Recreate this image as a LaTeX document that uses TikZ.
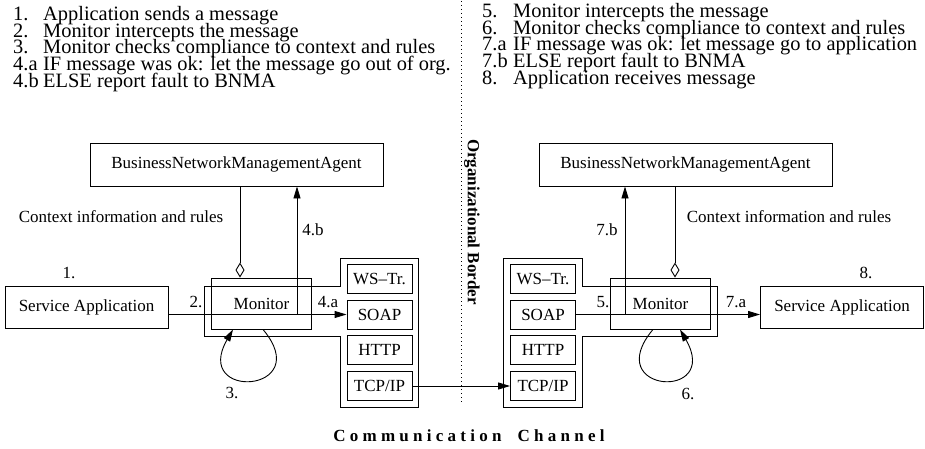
\documentclass[tikz,border=0pt]{standalone}
\usepackage{fontspec}
\setmainfont{Liberation Serif}
\usepackage{tikz}
\usetikzlibrary{arrows.meta}
\tikzstyle{caja} = [draw, line width=0.9pt, inner sep=0pt,
  font=\fontsize{17}{20}\selectfont]
\tikzstyle{aplic} = [caja, minimum width=163pt, minimum height=42pt]
\tikzstyle{agente} = [caja, minimum width=293pt, minimum height=43pt]
\tikzstyle{monitor} = [caja, minimum width=100pt, minimum height=51pt]
\tikzstyle{capa} = [caja, minimum width=65pt, minimum height=29pt]
\tikzstyle{etiq} = [inner sep=0pt, font=\fontsize{17}{20}\selectfont]
\tikzstyle{negrita} = [inner sep=0pt, font=\fontsize{17}{20}\selectfont\bfseries]
\tikzstyle{lista} = [inner sep=0pt, anchor=base west,
  font=\fontsize{20.4}{20}\selectfont]
\tikzstyle{line} = [draw, line width=0.9pt, -{Triangle[length=12pt,width=7pt]}]
\tikzstyle{contexto} = [draw, line width=0.9pt,
  -{Diamond[open,length=15pt,width=9pt]}]
\tikzstyle{borde} = [draw, line width=0.9pt]
\newcommand{\paso}[6]{%
  \node (n#1) [lista] at (#2,-#4) {#5};
  \node (t#1) [lista] at (#3,-#4) {#6};}

\begin{document}
\begin{tikzpicture}[x=1pt,y=1pt]
\useasboundingbox (0,0) rectangle (925,-449);

  % Steps of the sender and of the receiver
\paso{1}{13}{43}{20.7}{1.}{Application sends a message}
\paso{2}{13}{43}{37.3}{2.}{Monitor intercepts the message}
\paso{3}{13}{43}{54}{3.}{Monitor checks compliance to context and rules}
\paso{4a}{13}{43}{70.7}{4.a}{IF message was ok: let the message go out of org.}
\paso{4b}{13}{43}{87.3}{4.b}{ELSE report fault to BNMA}
\paso{5}{482}{513}{17.3}{5.}{Monitor intercepts the message}
\paso{6}{482}{513}{34.3}{6.}{Monitor checks compliance to context and rules}
\paso{7a}{482}{513}{51}{7.a}{IF message was ok: let message go to application}
\paso{7b}{482}{513}{67.7}{7.b}{ELSE report fault to BNMA}
\paso{8}{482}{513}{84.3}{8.}{Application receives message}

  % Organizational border
\draw[line width=1pt, dash pattern=on 1pt off 3pt] (461,-1) -- (461,-403);
\node (org) [negrita, rotate=-90] at (472,-222) {Organizational Border};
\node (canal) [negrita] at (469,-436)
  {C o m m u n i c a t i o n\hspace{12pt} C h a n n e l};

  % Sender side
\node (bnmaL) [agente] at (236.5,-164.5) {BusinessNetworkManagementAgent};
\node (sappL) [aplic] at (86.5,-307) {Service Application};
\node (monL) [monitor] at (261.5,-303.5) {Monitor};
\node (wsL) [capa] at (379.5,-278.5) {WS--Tr.};
\node (soapL) [capa] at (379.5,-314.5) {SOAP};
\node (httpL) [capa] at (379.5,-350) {HTTP};
\node (tcpL) [capa] at (379.5,-386) {TCP/IP};
\path [borde] (204,-286) -- (340,-286) -- (340,-258) -- (418,-258)
  -- (418,-407) -- (340,-407) -- (340,-336) -- (204,-336) -- cycle;

  % Receiver side
\node (bnmaR) [agente] at (685.5,-164.5) {BusinessNetworkManagementAgent};
\node (sappR) [aplic] at (842,-307) {Service Application};
\node (monR) [monitor] at (660.5,-303.5) {Monitor};
\node (wsR) [capa] at (543,-278.5) {WS--Tr.};
\node (soapR) [capa] at (543,-314.5) {SOAP};
\node (httpR) [capa] at (543,-350) {HTTP};
\node (tcpR) [capa] at (543,-386) {TCP/IP};
\path [borde] (503,-258) -- (582,-258) -- (582,-286) -- (717,-286)
  -- (717,-336) -- (582,-336) -- (582,-407) -- (503,-407) -- cycle;

  % Draw arrows between elements
\coordinate (ctxL) at (240,0);
\coordinate (ctxR) at (675,0);
\coordinate (fallaL) at (297,-314.5);
\coordinate (fallaR) at (625,-314.5);
\path [line] (sappL.east |- soapL.west) -- (soapL.west);
\path [line] (soapR.east) -- (sappR.west |- soapR.east);
\path [line] (tcpL) -- (tcpR);
\path [contexto] (ctxL |- bnmaL.south) -- (ctxL |- monL.north);
\path [contexto] (ctxR |- bnmaR.south) -- (ctxR |- monR.north);
\path [line] (fallaL) -- (fallaL |- bnmaL.south);
\path [line] (fallaR) -- (fallaR |- bnmaR.south);
\path [line] ([xshift=1.5pt]monL.south)
  to[out=-50, in=-120, distance=83pt] ([xshift=-28.5pt]monL.south);
\path [line] ([xshift=-7.5pt]monR.south)
  to[out=-130, in=-60, distance=83pt] ([xshift=19.5pt]monR.south);

  % Labels
\node (e1) [etiq] at (69,-273) {1.};
\node (e2) [etiq] at (196,-302) {2.};
\node (e3) [etiq] at (232,-393) {3.};
\node (e4a) [etiq] at (328,-302) {4.a};
\node (e4b) [etiq] at (313,-230) {4.b};
\node (e5) [etiq] at (603,-302) {5.};
\node (e6) [etiq] at (688,-394) {6.};
\node (e7a) [etiq] at (736,-302) {7.a};
\node (e7b) [etiq] at (607,-230) {7.b};
\node (e8) [etiq] at (866,-273) {8.};
\node (ctxtL) [etiq] at (121,-217) {Context information and rules};
\node (ctxtR) [etiq] at (789,-217) {Context information and rules};
\end{tikzpicture}
\end{document}
